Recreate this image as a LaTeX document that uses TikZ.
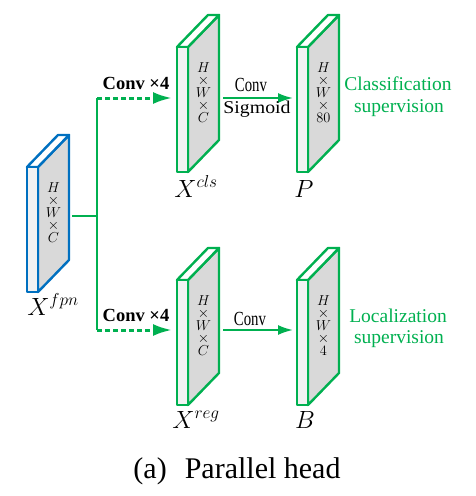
\documentclass[tikz,border=0pt]{standalone}
\usepackage{fontspec}
\setmainfont{Liberation Serif}
\usetikzlibrary{arrows.meta,calc}
\definecolor{gr}{RGB}{0,176,80}
\definecolor{bl}{RGB}{0,112,192}
\definecolor{sidegray}{RGB}{217,217,217}
\definecolor{frontgray}{RGB}{242,242,242}
\newcommand{\drawslab}[2]{%
  \filldraw[fill=sidegray, draw=#2, line width=2.4pt, line join=round]
    ($(#1.south west)+(11,-125)$) -- (#1.north east) -- ($(#1.north east)+(0,125)$) -- ($(#1.south west)+(11,0)$) -- cycle;
  \filldraw[fill=white, draw=#2, line width=2.4pt, line join=round]
    ($(#1.south west)+(0,-125)$) -- ($(#1.north west)+(31,0)$) -- (#1.north east) -- ($(#1.south west)+(11,-125)$) -- cycle;
  \filldraw[fill=frontgray, draw=#2, line width=2.4pt, line join=round]
    (#1.south west) rectangle ($(#1.south west)+(11,-125)$);
}
\begin{document}
\begin{tikzpicture}[x=1pt,y=-1pt,
  slabbox/.style={rectangle, minimum width=42pt, minimum height=157pt, inner sep=0pt, outer sep=0pt, draw=none},
  dimtext/.style={font=\fontsize{14.4}{12.5}\selectfont, align=center, inner sep=0pt},
  mathlbl/.style={font=\fontsize{24}{28}\selectfont, anchor=base, inner sep=0pt},
  boldlbl/.style={font=\fontsize{18.5}{22}\selectfont\bfseries, anchor=base, inner sep=0pt},
  oplbl/.style={font=\fontsize{18}{22}\selectfont, anchor=base, inner sep=0pt},
  convlbl/.style={font=\fontsize{20}{22}\selectfont, anchor=base, inner sep=0pt},
  suplbl/.style={font=\fontsize{19.5}{22}\selectfont, text=gr, anchor=base, inner sep=0pt},
  gline/.style={draw=gr, line width=2pt},
  dasharrow/.style={draw=gr, line width=3pt, dash pattern=on 5pt off 3pt, -{Latex[length=19pt,width=12pt]}, shorten >=5pt},
  convarrow/.style={draw=gr, line width=2pt, -{Latex[length=15pt,width=10pt]}, shorten <=4pt, shorten >=4pt}
]
\useasboundingbox (0,0) rectangle (475,496);

% slab bounding nodes
\node[slabbox] (fpn) at (48,213.5) {};
\node[slabbox] (cls) at (198,93.5) {};
\node[slabbox] (P) at (318,93.5) {};
\node[slabbox] (reg) at (198,326.5) {};
\node[slabbox] (B) at (318,326.5) {};

\drawslab{fpn}{bl}
\drawslab{cls}{gr}
\drawslab{P}{gr}
\drawslab{reg}{gr}
\drawslab{B}{gr}

% dimension texts
\node[dimtext] (fpnT) at ([xshift=5.5pt,yshift=1pt]fpn.center) {$H$\\$\times$\\$W$\\$\times$\\$C$};
\node[dimtext] (clsT) at ([xshift=5.5pt,yshift=1pt]cls.center) {$H$\\$\times$\\$W$\\$\times$\\$C$};
\node[dimtext] (PT) at ([xshift=5.5pt,yshift=1pt]P.center) {$H$\\$\times$\\$W$\\$\times$\\$80$};
\node[dimtext] (regT) at ([xshift=5.5pt,yshift=1pt]reg.center) {$H$\\$\times$\\$W$\\$\times$\\$C$};
\node[dimtext] (BT) at ([xshift=5.5pt,yshift=1pt]B.center) {$H$\\$\times$\\$W$\\$\times$\\$4$};

% labels under slabs
\node[mathlbl] (fpnL) at (53,315) {$X^{fpn}$};
\node[mathlbl] (clsL) at (196,197) {$X^{cls}$};
\node[mathlbl] (PL) at (304,197) {$P$};
\node[mathlbl] (regL) at (196,428) {$X^{reg}$};
\node[mathlbl] (BL) at (305,428) {$B$};

% connectors
\coordinate (split) at (97,216);
\coordinate (tU) at (97,98);
\coordinate (tD) at (97,330);
\draw[gline, shorten <=3pt] (split -| fpn.east) -- (split);
\draw[gline] (tU) -- (tD);
\draw[dasharrow] (tU) -- (tU -| cls.west);
\draw[dasharrow] (tD) -- (tD -| reg.west);
\draw[convarrow] (tU -| cls.east) -- (tU -| P.west);
\draw[convarrow] (tD -| reg.east) -- (tD -| B.west);

% connector labels
\node[boldlbl] (c4u) at (136,89) {Conv ×4};
\node[boldlbl] (c4d) at (136,321) {Conv ×4};
\node[convlbl] (convU) at (251,91) {\scalebox{0.74}[1]{Conv}};
\node[oplbl] (sigU) at (257,113) {\scalebox{1.1}[1]{Sigmoid}};
\node[convlbl] (convD) at (250,325) {\scalebox{0.74}[1]{Conv}};

% supervision labels
\node[suplbl] (cs1) at (398,90) {Classification};
\node[suplbl] (cs2) at (399,112) {supervision};
\node[suplbl] (ls1) at (398,322) {Localization};
\node[suplbl] (ls2) at (399,343) {supervision};

% caption
\node[font=\fontsize{30}{34}\selectfont, anchor=base, inner sep=0pt] (cap) at (237,478) {(a)\hspace{0.6em}Parallel head};
\end{tikzpicture}
\end{document}
